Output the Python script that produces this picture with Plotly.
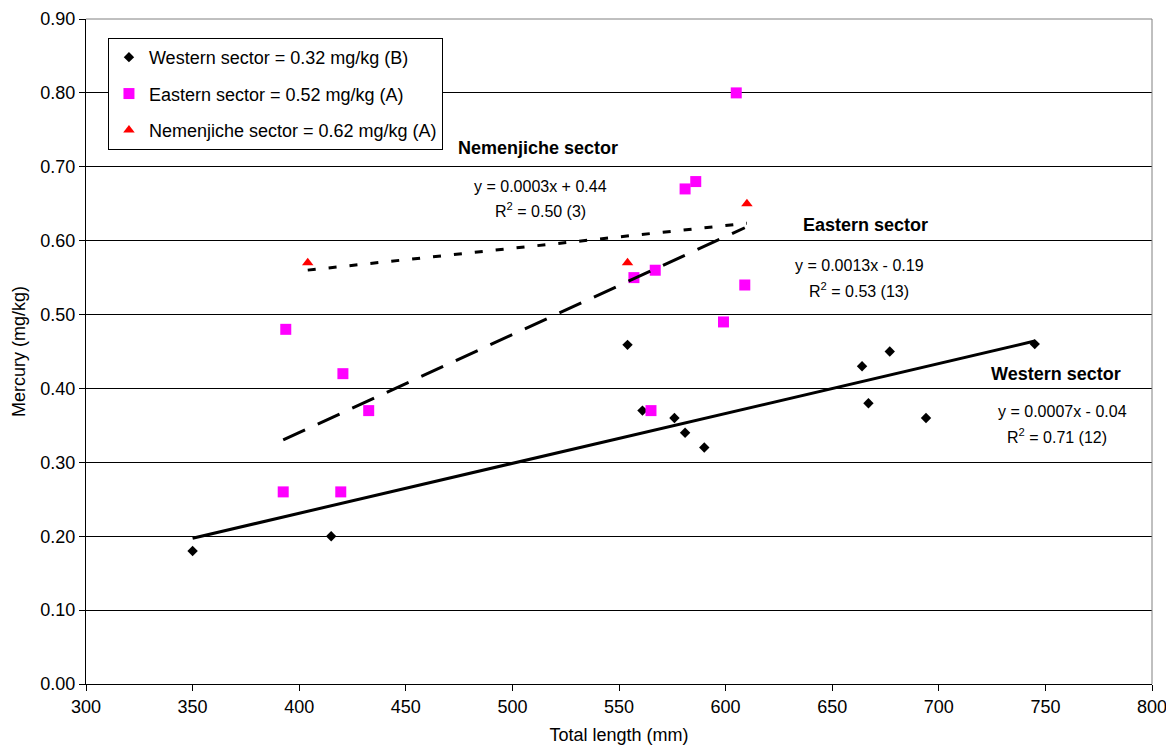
import numpy as np
import plotly.graph_objects as go

# Total length (mm) and mercury concentration (mg/kg) per sector
western_len = [350, 415, 554, 561, 576, 581, 590, 664, 667, 677, 694, 745]
western_hg = [0.18, 0.20, 0.459, 0.37, 0.36, 0.34, 0.32, 0.43, 0.38, 0.45, 0.36, 0.46]

eastern_len = [392.5, 393.7, 419.5, 420.5, 432.6, 557, 565, 567, 581, 586, 599, 605, 609]
eastern_hg = [0.26, 0.48, 0.26, 0.42, 0.37, 0.55, 0.37, 0.56, 0.67, 0.68, 0.49, 0.80, 0.54]

nemenjiche_len = [404, 554, 610]
nemenjiche_hg = [0.57, 0.57, 0.65]

legend_names = [
    "Western sector = 0.32 mg/kg (B)",
    "Eastern sector = 0.52 mg/kg (A)",
    "Nemenjiche sector = 0.62 mg/kg (A)",
]
sector_titles = ["Western sector", "Eastern sector", "Nemenjiche sector"]

FONT = "Liberation Sans, Arial, sans-serif"

series = [
    dict(x=western_len, y=western_hg, name=legend_names[0], title=sector_titles[0],
         symbol="diamond", size=8, color="#000000", dash="solid",
         label_xy=(755.1, 0.4198), eq_xy=(757.8, 0.3683), r2_xy=(755.6, 0.3358)),
    dict(x=eastern_len, y=eastern_hg, name=legend_names[1], title=sector_titles[1],
         symbol="square", size=11, color="#FF00FF", dash="24px,14px",
         label_xy=(665.7, 0.6215), eq_xy=(662.7, 0.5664), r2_xy=(662.8, 0.5335)),
    dict(x=nemenjiche_len, y=nemenjiche_hg, name=legend_names[2], title=sector_titles[2],
         symbol="triangle-up", size=10, color="#FF0000", dash="8px,13px",
         label_xy=(512.2, 0.7258), eq_xy=(513.4, 0.6734), r2_xy=(513.4, 0.6418)),
]

fig = go.Figure()

# scatter points
for i, s in enumerate(series):
    fig.add_trace(go.Scatter(
        x=s["x"], y=s["y"], mode="markers", name=s["name"],
        legendgroup=f"g{i}",
        marker=dict(symbol=s["symbol"], size=s["size"], color=s["color"],
                    line=dict(width=0)),
    ))

annotations = []
# linear trend lines with equation and R^2
for s in series:
    x = np.array(s["x"], dtype=float)
    y = np.array(s["y"], dtype=float)
    slope, intercept = np.polyfit(x, y, 1)
    pred = slope * x + intercept
    r2 = 1 - np.sum((y - pred) ** 2) / np.sum((y - y.mean()) ** 2)
    xs = np.array([x.min(), x.max()])
    fig.add_trace(go.Scatter(
        x=xs, y=slope * xs + intercept, mode="lines", showlegend=False,
        hoverinfo="skip",
        line=dict(color="#000000", width=3, dash=s["dash"]),
    ))
    sign = "+" if intercept >= 0 else "-"
    eq = f"y = {slope:.4f}x {sign} {abs(intercept):.2f}"
    r2_txt = f"R<sup>2</sup> = {r2:.2f} ({len(x)})"
    annotations += [
        dict(x=s["label_xy"][0], y=s["label_xy"][1], text=f"<b>{s['title']}</b>",
             font=dict(size=18, color="#000000", family=FONT)),
        dict(x=s["eq_xy"][0], y=s["eq_xy"][1], text=eq,
             font=dict(size=16, color="#000000", family=FONT)),
        dict(x=s["r2_xy"][0], y=s["r2_xy"][1], text=r2_txt,
             font=dict(size=16, color="#000000", family=FONT)),
    ]

for a in annotations:
    a.update(xref="x", yref="y", showarrow=False, xanchor="center", yanchor="middle")

fig.update_layout(
    width=1166, height=750,
    margin=dict(l=86, r=14, t=19, b=66),
    paper_bgcolor="#FFFFFF", plot_bgcolor="#FFFFFF",
    font=dict(family=FONT, size=18, color="#000000"),
    annotations=annotations,
    showlegend=True,
    legend=dict(
        x=0.0206, y=0.9715, xanchor="left", yanchor="top",
        bgcolor="#FFFFFF", bordercolor="#000000", borderwidth=1,
        font=dict(size=18, family=FONT, color="#000000"),
        tracegroupgap=10, itemwidth=30,
    ),
    xaxis=dict(
        range=[300, 800], dtick=50, tick0=300,
        ticks="outside", ticklen=6, tickcolor="#000000",
        showline=True, linecolor="#000000", linewidth=1,
        showgrid=False, zeroline=False,
        automargin=False, ticklabeloverflow="allow",
        tickfont=dict(size=18, family=FONT),
        title=dict(text="Total length (mm)", font=dict(size=18, family=FONT), standoff=12),
    ),
    yaxis=dict(
        range=[0, 0.9], dtick=0.1, tick0=0, tickformat=".2f",
        ticks="outside", ticklen=6, tickcolor="#000000",
        showline=True, linecolor="#000000", linewidth=1,
        showgrid=True, gridcolor="#000000", gridwidth=1, zeroline=False,
        automargin=False, ticklabeloverflow="allow",
        tickfont=dict(size=18, family=FONT),
        title=dict(text="Mercury (mg/kg)", font=dict(size=18, family=FONT), standoff=10),
    ),
    shapes=[
        dict(type="line", xref="paper", yref="paper", x0=0, x1=1, y0=1, y1=1,
             line=dict(color="#808080", width=1), layer="above"),
        dict(type="line", xref="paper", yref="paper", x0=1, x1=1, y0=0, y1=1,
             line=dict(color="#808080", width=1), layer="above"),
    ],
)

fig.write_html("out.html")
